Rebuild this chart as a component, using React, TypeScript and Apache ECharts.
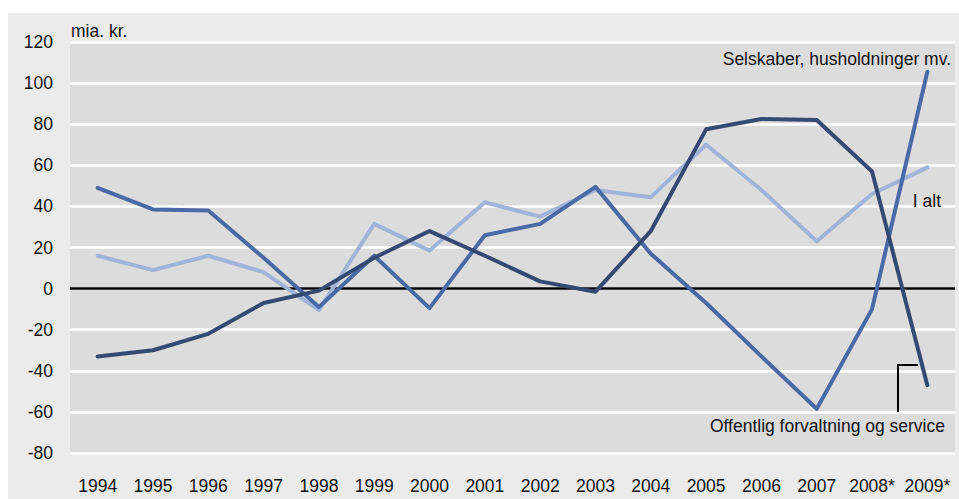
import React, { useEffect, useRef } from "react";
import * as echarts from "echarts";

const years = ["1994", "1995", "1996", "1997", "1998", "1999", "2000", "2001", "2002", "2003", "2004", "2005", "2006", "2007", "2008*", "2009*"];
const selskaber = [49, 38.5, 38, 15, -9, 16, -9.5, 26, 31.5, 49.5, 17, -7, -33, -58.5, -10, 105.5];
const iAlt = [16, 9, 16, 8, -10.5, 31.5, 18.5, 42, 35, 48, 44.5, 70, 48, 23, 46, 59];
const offentlig = [-33, -30, -22, -7, -1, 15, 28, 16, 3.5, -1.5, 28, 77.5, 82.5, 82, 57, -47];
const yTicks = { min: -80, max: 120, step: 20 };
const unitLabel = "mia. kr.";
const seriesNames = ["I alt", "Selskaber, husholdninger mv.", "Offentlig forvaltning og service"];

const FONT = "'Liberation Sans', Arial, sans-serif";
const FS = 17.5;

export default function App() {
  const ref = useRef<HTMLDivElement>(null);
  useEffect(() => {
    if (!ref.current) return;
    const chart = echarts.init(ref.current, undefined, { renderer: "svg" });
    const lineSeries = (name: string, data: number[], color: string, extra: any = {}) => ({
      name,
      type: "line",
      data,
      symbol: "none",
      lineStyle: { color, width: 4, cap: "round", join: "round" },
      itemStyle: { color },
      ...extra,
    });
    const txt = (text: string, x: number, y: number) => ({
      type: "text",
      x,
      y,
      z: 100,
      style: { text, fontSize: FS, fontFamily: FONT, fill: "#111", align: "right", verticalAlign: "middle" },
    });
    chart.setOption({
      animation: false,
      backgroundColor: "transparent",
      textStyle: { fontFamily: FONT },
      grid: {
        left: 70,
        right: 4,
        top: 42,
        bottom: 46,
        show: true,
        backgroundColor: "#dcdcdc",
        borderWidth: 0,
      },
      xAxis: {
        type: "category",
        data: years,
        boundaryGap: true,
        axisLine: { show: false },
        axisTick: { show: false },
        axisLabel: { color: "#111", fontSize: FS, fontFamily: FONT, margin: 24, interval: 0 },
        splitLine: { show: false },
      },
      yAxis: {
        type: "value",
        min: yTicks.min,
        max: yTicks.max,
        interval: yTicks.step,
        axisLine: { show: false },
        axisTick: { show: false },
        axisLabel: { color: "#111", fontSize: FS, fontFamily: FONT, margin: 17 },
        splitLine: { show: true, lineStyle: { color: "#ffffff", width: 2.5 } },
      },
      series: [
        lineSeries(seriesNames[0], iAlt, "#a0b4da", {
          markLine: {
            silent: true,
            symbol: "none",
            label: { show: false },
            lineStyle: { color: "#000", width: 2.5, type: "solid" },
            data: [{ yAxis: 0 }],
            z: 1,
          },
        }),
        lineSeries(seriesNames[1], selskaber, "#4a6aa5"),
        lineSeries(seriesNames[2], offentlig, "#344a72"),
      ],
      graphic: [
        {
          type: "text",
          x: 71,
          y: 31,
          z: 100,
          style: { text: unitLabel, fontSize: FS, fontFamily: FONT, fill: "#111", align: "left", verticalAlign: "middle" },
        },
        txt(seriesNames[1], 951, 59),
        txt(seriesNames[0], 941, 201),
        txt(seriesNames[2], 945, 426),
        {
          type: "polyline",
          z: 100,
          shape: { points: [[918, 365], [898, 365], [898, 412]] },
          style: { stroke: "#000", lineWidth: 2, fill: "none" },
        },
      ],
    });
    return () => chart.dispose();
  }, []);
  return (
    <div style={{ position: "absolute", left: 0, top: 0, width: 959, height: 499, background: "#ffffff" }}>
      <div style={{ position: "absolute", left: 8, top: 13, right: 0, bottom: 0, background: "#ebebeb" }} />
      <div ref={ref} style={{ position: "absolute", left: 0, top: 0, width: 959, height: 499 }} />
    </div>
  );
}
